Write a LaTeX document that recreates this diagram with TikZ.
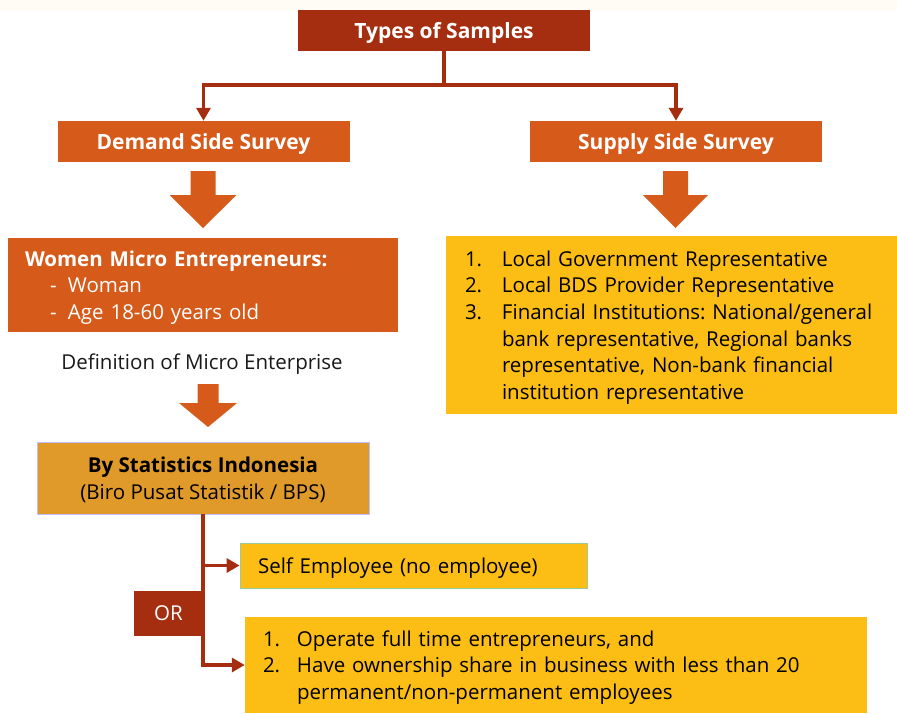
\documentclass[tikz,border=0pt]{standalone}
\usepackage{fontspec}
\setmainfont{Open Sans}
\usepackage{xcolor}
\definecolor{ColRed}{RGB}{166,46,16}
\definecolor{ColOrange}{RGB}{214,90,26}
\definecolor{ColOchre}{RGB}{224,154,42}
\definecolor{ColYellow}{RGB}{252,190,20}
\definecolor{ColCream}{RGB}{255,251,245}
\usepackage{tikz}
\usetikzlibrary{arrows.meta}
\frenchspacing
\tikzstyle{BoxFont}=[font={\fontsize{20.5}{26.7}\selectfont}]
\tikzstyle{OneLine}=[text depth=0pt]
\tikzstyle{BoxHead}=[inner sep=0pt,fill=ColRed,text=white,
font={\fontsize{21}{26.7}\selectfont\bfseries}]
\tikzstyle{BoxSide}=[BoxHead,fill=ColOrange]
\tikzstyle{BoxList}=[inner sep=0pt,fill=ColYellow,text=black,align=left,BoxFont]
\tikzstyle{Edge}=[draw=ColRed,line width=3.5pt]
\tikzstyle{EdgeArrow}=[Edge,-{Triangle[length=13pt,width=14pt]}]
% block arrow: centre x, top, neck, tip, half shaft, half head
\newcommand{\BlockArrow}[6]{%
  \fill[ColOrange]({#1-#5},#2)--({#1+#5},#2)--({#1+#5},#3)--({#1+#6},#3)
    --(#1,#4)--({#1-#6},#3)--({#1-#5},#3)--cycle;}

\begin{document}
\begin{tikzpicture}[x=1pt,y=-1pt]
        \useasboundingbox(0,0)rectangle(897,713);
        \fill[ColCream](0,0)rectangle(897,11);
        \node[BoxHead,OneLine,minimum width=292pt,minimum height=41pt](types)at(444.00,30.00){Types of Samples};
        \node[BoxSide,OneLine,minimum width=292pt,minimum height=41pt](demand)at(203.50,141.50){Demand Side Survey};
        \node[BoxSide,OneLine,minimum width=292pt,minimum height=41pt](supply)at(676.00,141.50){Supply Side Survey};
        \node[BoxSide,minimum height=94pt,text width=356pt,inner xsep=17pt,align=left,
          font={\fontsize{20.5}{26.7}\selectfont}](women)at(203.00,285.00){%
          \textbf{Women Micro Entrepreneurs:}\\
          \hspace*{25pt}\makebox[18pt][l]{-}Woman\\
          \hspace*{25pt}\smash{\makebox[18pt][l]{-}Age 18-60 years old}};
        \node[BoxFont,OneLine,text=black!90](defn)at(202.00,362.00){Definition of Micro Enterprise};
        \node[inner sep=0pt,fill=ColOchre,draw=blue!25,line width=0.8pt,minimum width=332pt,
          minimum height=72pt,align=center,BoxFont](stat)at(203.00,478.00){%
          \textbf{By Statistics Indonesia}\\\smash{(Biro Pusat Statistik / BPS)}};
        \node[BoxList,OneLine,draw=green!35!gray!60,line width=0.8pt,minimum width=347pt,minimum height=45pt,
          text width=311pt,inner xsep=18pt](self)at(413.50,565.50){Self Employee (no employee)};
        \node[BoxHead,OneLine,minimum width=69pt,minimum height=45pt,font={\fontsize{20.5}{26.7}\selectfont}](or)
          at(168.50,613.50){OR};
        \node[BoxList,minimum width=622pt,minimum height=96pt,text width=586pt,inner xsep=18pt](crit)
          at(556.00,665.00){%
          \makebox[34pt][l]{1.}Operate full time entrepreneurs, and\\
          \makebox[34pt][l]{2.}Have ownership share in business with less than 20\\
          \hspace*{34pt}\smash{permanent/non-permanent employees}};
        \node[BoxList,minimum width=451pt,minimum height=178pt,text width=413pt,inner xsep=19pt](list)
          at(671.50,325.00){%
          \makebox[37pt][l]{1.}Local Government Representative\\
          \makebox[37pt][l]{2.}Local BDS Provider Representative\\
          \makebox[37pt][l]{3.}Financial Institutions: National/general\\
          \hspace*{37pt}bank representative, Regional banks\\
          \hspace*{37pt}representative, Non-bank financial\\
          \hspace*{37pt}\smash{institution representative}};
        \coordinate(fork)at(444.00,85.00);
        \draw[Edge](types)--(fork);
        \draw[EdgeArrow](fork)-|(demand);
        \draw[EdgeArrow](fork)-|(supply);
        \BlockArrow{203}{171}{195}{228}{12.5}{33.5}
        \BlockArrow{675.5}{171}{195}{228}{12.5}{32.5}
        \BlockArrow{208}{384}{403}{427}{10.5}{29}
        \draw[EdgeArrow](stat.south)|-(self);
        \draw[EdgeArrow](stat.south)|-(crit);
    \end{tikzpicture}
\end{document}
